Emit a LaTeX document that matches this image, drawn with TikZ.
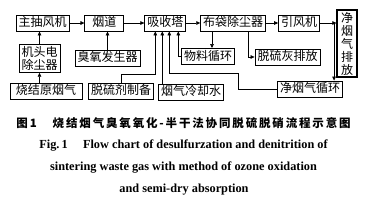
\documentclass[tikz,border=0pt]{standalone}
\usepackage{fontspec}
\setmainfont{Liberation Serif}
\newfontfamily\cjk{Noto Sans CJK SC}
\usetikzlibrary{arrows.meta, positioning, calc}
\tikzset{
	blk/.style    ={rectangle, draw=black, line width=0.9pt, align=center, inner xsep=2.5pt, inner ysep=2pt, font=\cjk\fontsize{12}{12.5}\selectfont},
	box/.style    ={blk, text height=10pt, text depth=2pt},
	vbox/.style   ={blk, line width=1.3pt, minimum width=20pt, font=\cjk\fontsize{12}{13}\selectfont},
	flow/.style   ={-{Triangle[length=4pt, width=3.6pt]}, line width=0.6pt},
	capcn/.style  ={font=\cjk\bfseries\fontsize{11.5}{12}\selectfont\addfontfeature{LetterSpace=16}},
	capen/.style  ={font=\bfseries\fontsize{12.3}{14}\selectfont},
}
\begin{document}
\begin{tikzpicture}[x=1pt, y=1pt]
	\useasboundingbox (0,0) rectangle (377,-205);
	% main gas line
	\node[box] (zcfj) at (42.5,-23) {主抽风机};
	\node[box, right=15pt of zcfj, minimum width=39pt] (yd) {烟道};
	\node[box, right=20pt of yd] (xst) {吸收塔};
	\node[box, right=14pt of xst] (bdc) {布袋除尘器};
	\node[box, right=12pt of bdc] (yfj) {引风机};
	\node[vbox] (jyqpf) at (347,-43.5) {净\\烟\\气\\排\\放};
	% second row
	\node[blk, minimum height=27pt] (jtdc) at (39.5,-58.5) {机头电\\除尘器};
	\node[box] (cyfs) at (107.5,-58) {臭氧发生器};
	\node[box] (wlxh) at (208,-56.5) {物料循环};
	\node[box] (tlhpf) at (287.5,-57) {脱硫灰排放};
	% third row
	\node[box, minimum width=72pt] (sjyq) at (46,-91) {烧结原烟气};
	\node[box] (tljzb) at (121,-91) {脱硫剂制备};
	\node[box] (yqlqs) at (191,-92) {烟气冷却水};
	\node[box] (jyqxh) at (310,-89) {净烟气循环};
	% connectors
	\draw[flow] (sjyq.north -| jtdc.south) -- (jtdc.south);
	\draw[flow] (jtdc.north) -- (jtdc.north |- zcfj.south);
	\draw[flow] (zcfj) -- (yd); \draw[flow] (yd) -- (xst); \draw[flow] (xst) -- (bdc); \draw[flow] (bdc) -- (yfj);
	\coordinate (fz) at ($(yfj.east)+(14,0)$);
	\draw[flow] (yfj.east) -- (yfj.east -| jyqpf.west);
	\draw[flow] (fz) -- (fz |- jyqxh.north);
	\draw[flow] (cyfs.north) -- (cyfs.north |- yd.south);
	\draw[flow] ([xshift=4pt]wlxh.north |- bdc.south) -- ([xshift=4pt]wlxh.north);
	\draw[flow] ([xshift=15pt]bdc.south) |- (tlhpf.west);
	\draw[flow] (wlxh.west) -| ([xshift=13pt]xst.south);
	\draw[flow] (tljzb.north) -- ++(0,8) -| ([xshift=-10pt]xst.south);
	\draw[flow] ([xshift=-3pt]xst.south |- yqlqs.north) -- ([xshift=-3pt]xst.south);
	\draw[flow] (jyqxh.west) -- ++(-39,0) -- ++(0,16) -| ([xshift=4pt]xst.south);
	% caption
	\node[capcn] (capcn) at (183.5,-123) {图\,1\quad\ 烧结烟气臭氧氧化-半干法协同脱硫脱硝流程示意图};
	\node[capen] (cap1) at (183.5,-146) {Fig.\,1\quad\ Flow chart of desulfurzation and denitrition of};
	\node[capen] (cap2) at (183.5,-168) {sintering waste gas with method of ozone oxidation};
	\node[capen] (cap3) at (184,-190) {and semi-dry absorption};
\end{tikzpicture}
\end{document}
